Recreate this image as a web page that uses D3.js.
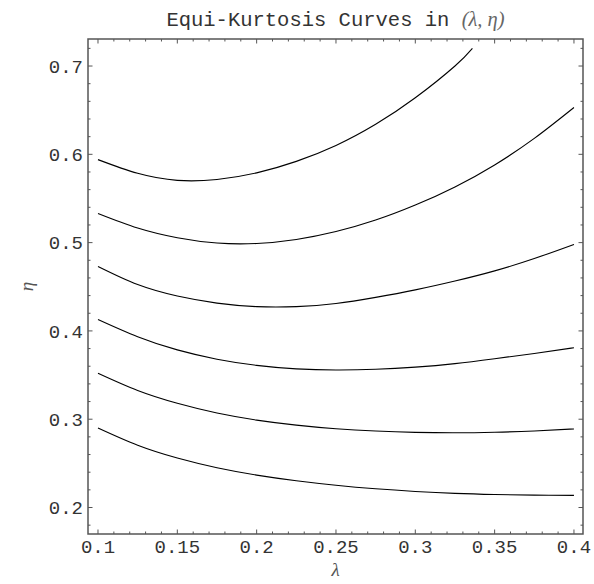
<!DOCTYPE html>
<html>
<head>
<meta charset="utf-8">
<script src="https://cdn.jsdelivr.net/npm/d3@7"></script>
<style>
  body { margin: 0; background: #fff; }
</style>
</head>
<body>
<script>
// Chart size and frame position
const width = 594;
const height = 584;
const margin = { top: 39, right: 11, bottom: 50, left: 88 };

// Values
const lambdaGrid = [0.1, 0.125, 0.15, 0.175, 0.2, 0.225, 0.25, 0.275, 0.3, 0.325, 0.35, 0.375, 0.4];
const lambdaTop = [0.1, 0.125, 0.15, 0.175, 0.2, 0.225, 0.25, 0.275, 0.3, 0.325, 0.336];

const curve1 = [0.594, 0.5785, 0.5705, 0.5715, 0.579, 0.592, 0.610, 0.634, 0.664, 0.700, 0.720];
const curve2 = [0.533, 0.5165, 0.5055, 0.4995, 0.4990, 0.5035, 0.5125, 0.5255, 0.5425, 0.563, 0.588, 0.618, 0.653];
const curve3 = [0.473, 0.4525, 0.4395, 0.4315, 0.4275, 0.4275, 0.4310, 0.4380, 0.4465, 0.4565, 0.4680, 0.4820, 0.498];
const curve4 = [0.413, 0.3935, 0.3785, 0.3680, 0.3610, 0.3570, 0.3557, 0.3565, 0.3590, 0.3630, 0.3685, 0.3745, 0.381];
const curve5 = [0.352, 0.3325, 0.3180, 0.3070, 0.2990, 0.2933, 0.2892, 0.2866, 0.2851, 0.2846, 0.2852, 0.2867, 0.289];
const curve6 = [0.290, 0.2705, 0.2560, 0.2450, 0.2367, 0.2303, 0.2252, 0.2212, 0.2182, 0.2160, 0.2147, 0.2140, 0.2138];

const xTickLabels = ["0.1", "0.15", "0.2", "0.25", "0.3", "0.35", "0.4"];
const yTickLabels = ["0.2", "0.3", "0.4", "0.5", "0.6", "0.7"];

const series = [
  { xs: lambdaTop, ys: curve1 },
  { xs: lambdaGrid, ys: curve2 },
  { xs: lambdaGrid, ys: curve3 },
  { xs: lambdaGrid, ys: curve4 },
  { xs: lambdaGrid, ys: curve5 },
  { xs: lambdaGrid, ys: curve6 }
];

const svg = d3.select("body").append("svg")
  .attr("width", width)
  .attr("height", height);

const x = d3.scaleLinear()
  .domain([0.0937, 0.4057])
  .range([margin.left, width - margin.right]);

const y = d3.scaleLinear()
  .domain([0.170, 0.7306])
  .range([height - margin.bottom, margin.top]);

const mono = "'Liberation Mono', 'Courier New', monospace";
const serif = "'Liberation Serif', 'Times New Roman', serif";

// Curves
const line = d3.line()
  .x(d => x(d[0]))
  .y(d => y(d[1]))
  .curve(d3.curveNatural);

svg.append("g")
  .selectAll("path")
  .data(series)
  .join("path")
  .attr("d", s => line(s.xs.map((v, i) => [v, s.ys[i]])))
  .attr("fill", "none")
  .attr("stroke", "#000")
  .attr("stroke-width", 1.1);

// Ticks on all four sides
const xMinor = d3.range(10, 41).map(v => v / 100);
const yMinor = d3.range(9, 37).map(v => v * 2 / 100);
const xMajor = xTickLabels.map(Number);
const yMajor = yTickLabels.map(Number);

const tickColor = "#555";
const ticks = svg.append("g").attr("stroke", tickColor).attr("stroke-width", 1);
const x0 = x.range()[0], x1 = x.range()[1];
const y0 = y.range()[0], y1 = y.range()[1];

function isMajor(v, list) { return list.some(m => Math.abs(m - v) < 1e-6); }

xMinor.forEach(v => {
  const len = isMajor(v, xMajor) ? 4.5 : 2.5;
  ticks.append("line").attr("x1", x(v)).attr("x2", x(v)).attr("y1", y0).attr("y2", y0 - len);
  ticks.append("line").attr("x1", x(v)).attr("x2", x(v)).attr("y1", y1).attr("y2", y1 + len);
});
yMinor.forEach(v => {
  const len = isMajor(v, yMajor) ? 4.5 : 2.5;
  ticks.append("line").attr("y1", y(v)).attr("y2", y(v)).attr("x1", x0).attr("x2", x0 + len);
  ticks.append("line").attr("y1", y(v)).attr("y2", y(v)).attr("x1", x1).attr("x2", x1 - len);
});

// Frame
svg.append("rect")
  .attr("x", x0).attr("y", y1)
  .attr("width", x1 - x0).attr("height", y0 - y1)
  .attr("fill", "none")
  .attr("stroke", tickColor)
  .attr("stroke-width", 1.5);

// Tick labels
svg.append("g")
  .selectAll("text")
  .data(xTickLabels)
  .join("text")
  .attr("x", d => x(+d))
  .attr("y", y0 + 19)
  .attr("text-anchor", "middle")
  .attr("font-family", mono)
  .attr("font-size", 19)
  .attr("fill", "#333")
  .text(d => d);

svg.append("g")
  .selectAll("text")
  .data(yTickLabels)
  .join("text")
  .attr("x", x0 - 5)
  .attr("y", d => y(+d))
  .attr("dy", "0.35em")
  .attr("text-anchor", "end")
  .attr("font-family", mono)
  .attr("font-size", 19)
  .attr("fill", "#333")
  .text(d => d);

// Axis labels
svg.append("text")
  .attr("x", (x0 + x1) / 2)
  .attr("y", 576)
  .attr("text-anchor", "middle")
  .attr("font-family", serif)
  .attr("font-style", "italic")
  .attr("font-size", 19)
  .attr("fill", "#555")
  .text("λ");

svg.append("text")
  .attr("transform", `translate(33,${(y0 + y1) / 2}) rotate(-90)`)
  .attr("text-anchor", "middle")
  .attr("font-family", serif)
  .attr("font-style", "italic")
  .attr("font-size", 19)
  .attr("fill", "#555")
  .text("η");

// Title
const title = svg.append("text")
  .attr("x", (x0 + x1) / 2)
  .attr("y", 26)
  .attr("text-anchor", "middle")
  .attr("font-family", mono)
  .attr("font-size", 20.5)
  .attr("fill", "#333");
title.append("tspan").text("Equi-Kurtosis Curves in ");
title.append("tspan")
  .attr("font-family", serif)
  .attr("font-style", "italic")
  .attr("fill", "#666")
  .text("(λ, η)");
</script>
</body>
</html>
